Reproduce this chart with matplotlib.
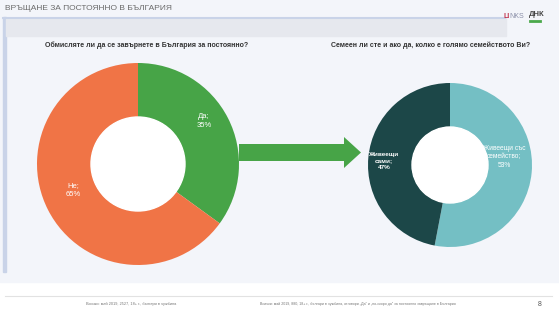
import matplotlib
matplotlib.use('Agg')
import matplotlib.pyplot as plt
from matplotlib.patches import Rectangle, FancyArrow, Circle

plt.rcParams['font.family'] = ['Liberation Sans', 'DejaVu Sans']

# Данни
titla = 'ВРЪЩАНЕ ЗА ПОСТОЯННО В БЪЛГАРИЯ'
vapros1 = 'Обмисляте ли да се завърнете в България за постоянно?'
etiketi1 = ['Да', 'Не']
stoinosti1 = [35, 65]
cvetove1 = ['#47a447', '#f07446']

vapros2 = 'Семеен ли сте и ако да, колко е голямо семейството Ви?'
etiketi2 = ['Живеещи със\nсемейство', 'Живеещи\nсами']
stoinosti2 = [53, 47]
cvetove2 = ['#74bfc4', '#1c4748']

belejka1 = 'Всички: май 2019, 2527, 18+ г., българи в чужбина'
belejka2 = 'Всички: май 2019, 880, 18+ г., българи в чужбина, отговори „Да" и „по-скоро да" за постоянно завръщане в България'

W, H = 559, 314
fig = plt.figure(figsize=(W / 100, H / 100), dpi=100)
fig.patch.set_facecolor('white')
ax = fig.add_axes([0, 0, 1, 1])
ax.set_xlim(0, W)
ax.set_ylim(0, H)
ax.set_aspect('equal')
ax.axis('off')

def y(v):
    # координати отгоре надолу, както в картинката
    return H - v

# фон и рамки
ax.add_patch(Rectangle((0, y(282)), W, 282, color='#f3f5fa', zorder=0))
ax.add_patch(Rectangle((3, y(272)), 3, 255, color='#c9d3e8', zorder=1))
ax.add_patch(Rectangle((6, y(36)), 500, 18, color='#e6e8ee', zorder=1))
ax.plot([3, 505], [y(17.5), y(17.5)], color='#c9d3e8', lw=1.5, zorder=2)
ax.plot([5, 552], [y(296), y(296)], color='#e2e2e2', lw=0.8, zorder=2)

ax.text(5, y(8), titla, fontsize=6, color='#6b6b6b', va='center', ha='left')
ax.text(147, y(45), vapros1, fontsize=5, fontweight='bold', color='#333333', ha='center', va='center')
ax.text(431, y(45), vapros2, fontsize=5, fontweight='bold', color='#333333', ha='center', va='center')

# лога
ax.text(503, y(17), 'LI', fontsize=5, color='#c0314a', fontweight='bold', ha='left', va='center')
ax.text(509, y(17), 'NKS', fontsize=5, color='#8a8fa8', ha='left', va='center')
ax.text(529, y(14), 'ДНК', fontsize=5.5, color='#444444', fontweight='bold', ha='left', va='center')
ax.plot([530, 540], [y(21), y(21)], color='#4aa84a', lw=2)

# лява диаграма
ax.pie(stoinosti1, colors=cvetove1, startangle=90, counterclock=False,
       center=(138, y(164)), radius=101,
       wedgeprops=dict(width=54, edgecolor='none'))
ax.add_patch(Circle((138, y(164)), 47, color='white', zorder=3))
ax.text(204, y(121), f'{etiketi1[0]};\n{stoinosti1[0]}%', fontsize=5.5, color='white',
        ha='center', va='center', linespacing=1.3, zorder=4)
ax.text(73, y(190), f'{etiketi1[1]};\n{stoinosti1[1]}%', fontsize=5.5, color='white',
        ha='center', va='center', linespacing=1.3, zorder=4)

# стрелка
ax.add_patch(FancyArrow(239, y(152.5), 122, 0, width=17, head_width=31, head_length=17,
                        length_includes_head=True, color='#47a447', lw=0, zorder=3))

# дясна диаграма
ax.pie(stoinosti2, colors=cvetove2, startangle=90, counterclock=False,
       center=(450, y(165)), radius=82,
       wedgeprops=dict(width=44, edgecolor='none'))
ax.add_patch(Circle((450, y(165)), 38, color='white', zorder=3))
ax.text(504, y(157), f'{etiketi2[0]};\n{stoinosti2[0]}%', fontsize=4.8, color='white',
        ha='center', va='center', linespacing=1.3, zorder=4)
ax.text(384, y(161), f'{etiketi2[1]};\n{stoinosti2[1]}%', fontsize=4.6, color='white',
        ha='center', va='center', linespacing=1.3, fontweight='bold', zorder=4)

ax.set_xlim(0, W)
ax.set_ylim(0, H)

# бележки
ax.text(131, y(304), belejka1, fontsize=2.8, color='#777777', ha='center', va='center')
ax.text(358, y(304), belejka2, fontsize=2.6, color='#777777', ha='center', va='center')
ax.text(540, y(305), '8', fontsize=5, color='#555555', ha='center', va='center')

fig.savefig('out.png', dpi=100, facecolor=fig.get_facecolor())
